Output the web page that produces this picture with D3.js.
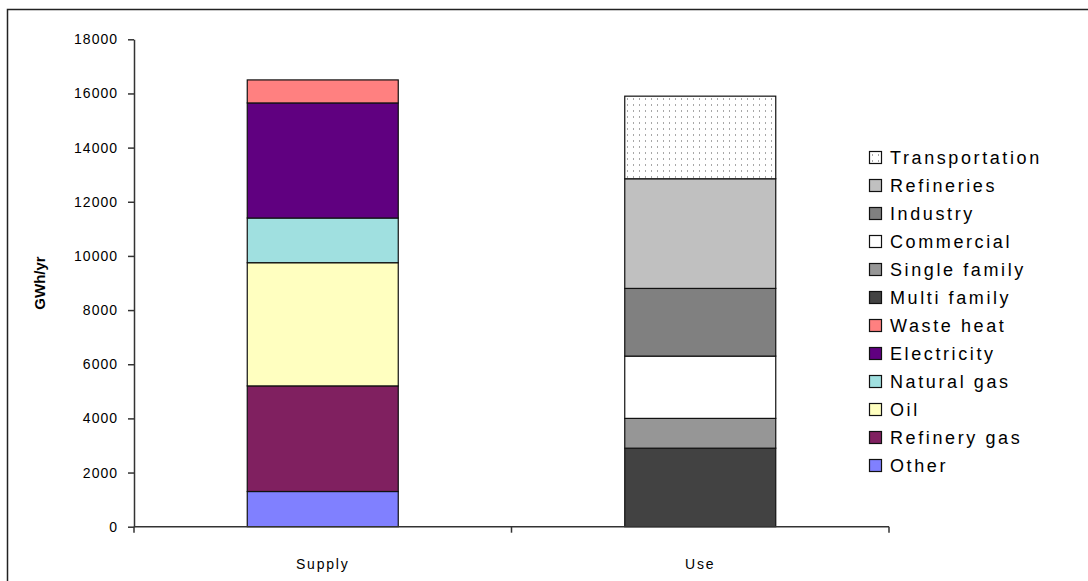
<!DOCTYPE html>
<html>
<head>
<meta charset="utf-8">
<script src="https://cdn.jsdelivr.net/npm/d3@7"></script>
<style>
  html, body { margin: 0; padding: 0; background: #fff; }
  svg { display: block; }
  text { font-family: "Liberation Sans", Arial, sans-serif; fill: #000; }
</style>
</head>
<body>
<svg id="chart" width="1088" height="581"></svg>
<script>
// Energy balance: supply sources and end uses, GWh per year
const categories = ["Supply", "Use"];
const supplyKeys = ["Other", "Refinery gas", "Oil", "Natural gas", "Electricity", "Waste heat"];
const supplyValues = [1300, 3900, 4550, 1650, 4250, 850];
const useKeys = ["Multi family", "Single family", "Commercial", "Industry", "Refineries", "Transportation"];
const useValues = [2900, 1100, 2300, 2500, 4050, 3050];
const yTicks = [0, 2000, 4000, 6000, 8000, 10000, 12000, 14000, 16000, 18000];
const yLabel = "GWh/yr";

const fills = {
  "Other": "#8080ff",
  "Refinery gas": "#802060",
  "Oil": "#ffffc0",
  "Natural gas": "#a0e0e0",
  "Electricity": "#600080",
  "Waste heat": "#ff8080",
  "Multi family": "#424242",
  "Single family": "#969696",
  "Commercial": "#ffffff",
  "Industry": "#808080",
  "Refineries": "#c0c0c0",
  "Transportation": "url(#dots)"
};

const keys = supplyKeys.concat(useKeys);
const rows = [
  Object.fromEntries([["cat", "Supply"], ...supplyKeys.map((k, i) => [k, supplyValues[i]]), ...useKeys.map(k => [k, 0])]),
  Object.fromEntries([["cat", "Use"], ...supplyKeys.map(k => [k, 0]), ...useKeys.map((k, i) => [k, useValues[i]])])
];

const svg = d3.select("#chart");

// dotted fill for transportation
const pat = svg.append("defs").append("pattern")
  .attr("id", "dots").attr("patternUnits", "userSpaceOnUse")
  .attr("width", 6).attr("height", 6);
pat.append("rect").attr("width", 6).attr("height", 6).attr("fill", "#fff");
pat.append("rect").attr("x", 3).attr("y", 2).attr("width", 1).attr("height", 2).attr("fill", "#a8a8a8");

// outer chart frame
svg.append("rect")
  .attr("x", 7.5).attr("y", 9.5).attr("width", 1100).attr("height", 600)
  .attr("fill", "none").attr("stroke", "#222").attr("stroke-width", 1.5);

const plot = { left: 134, right: 889, top: 39.3, bottom: 526.7 };

const x = d3.scaleBand().domain(categories).range([plot.left, plot.right]).padding(0);
const y = d3.scaleLinear().domain([0, 18000]).range([plot.bottom, plot.top]);

const stacked = d3.stack().keys(keys)(rows);
const barW = x.bandwidth() * 0.4;

const layers = svg.append("g").selectAll("g").data(stacked).join("g")
  .attr("fill", d => fills[d.key]);
layers.selectAll("rect")
  .data(d => d.filter(p => p[1] - p[0] > 0))
  .join("rect")
  .attr("x", d => x(d.data.cat) + (x.bandwidth() - barW) / 2)
  .attr("y", d => y(d[1]))
  .attr("width", barW)
  .attr("height", d => y(d[0]) - y(d[1]))
  .attr("stroke", "#111")
  .attr("stroke-width", 1.2);

// y axis
const yAxis = svg.append("g")
  .attr("transform", `translate(${plot.left},0)`)
  .call(d3.axisLeft(y).tickValues(yTicks).tickSize(6).tickSizeOuter(0).tickPadding(10).tickFormat(d3.format("d")));
yAxis.select(".domain").attr("stroke", "#333").attr("stroke-width", 1.5);
yAxis.selectAll(".tick line").attr("stroke", "#333").attr("stroke-width", 1.5);
yAxis.selectAll(".tick text")
  .style("font-family", "'Liberation Sans', Arial, sans-serif")
  .style("font-size", "14px").style("letter-spacing", "1px").attr("fill", "#000");

// x axis with ticks on category boundaries
const xAxisG = svg.append("g").attr("transform", `translate(0,${plot.bottom})`);
xAxisG.append("line")
  .attr("x1", plot.left).attr("x2", plot.right)
  .attr("stroke", "#333").attr("stroke-width", 1.5);
const bounds = categories.map(c => x(c)).concat([x(categories[categories.length - 1]) + x.bandwidth()]);
xAxisG.selectAll("line.bt").data(bounds).join("line").attr("class", "bt")
  .attr("x1", d => d).attr("x2", d => d).attr("y1", 0).attr("y2", 6)
  .attr("stroke", "#333").attr("stroke-width", 1.5);
xAxisG.selectAll("text").data(categories).join("text")
  .attr("x", d => x(d) + x.bandwidth() / 2)
  .attr("y", 42)
  .attr("text-anchor", "middle")
  .style("font-size", "14px").style("letter-spacing", "1.8px")
  .text(d => d);

// y axis title
svg.append("text")
  .attr("transform", `translate(45,${(plot.top + plot.bottom) / 2}) rotate(-90)`)
  .attr("text-anchor", "middle")
  .style("font-size", "15px").style("font-weight", "bold")
  .text(yLabel);

// legend, top entry is the last stacked series
const legendKeys = keys.slice().reverse();
const legend = svg.append("g").attr("transform", "translate(869,158)");
const item = legend.selectAll("g").data(legendKeys).join("g")
  .attr("transform", (d, i) => `translate(0,${i * 28})`);
item.append("rect")
  .attr("x", 0.5).attr("y", -6.5).attr("width", 12).attr("height", 12)
  .attr("fill", d => fills[d]).attr("stroke", "#111").attr("stroke-width", 1.2);
item.append("text")
  .attr("x", 21).attr("y", 0).attr("dy", "0.36em")
  .style("font-size", "18px").style("letter-spacing", "2.6px")
  .text(d => d);
</script>
</body>
</html>
